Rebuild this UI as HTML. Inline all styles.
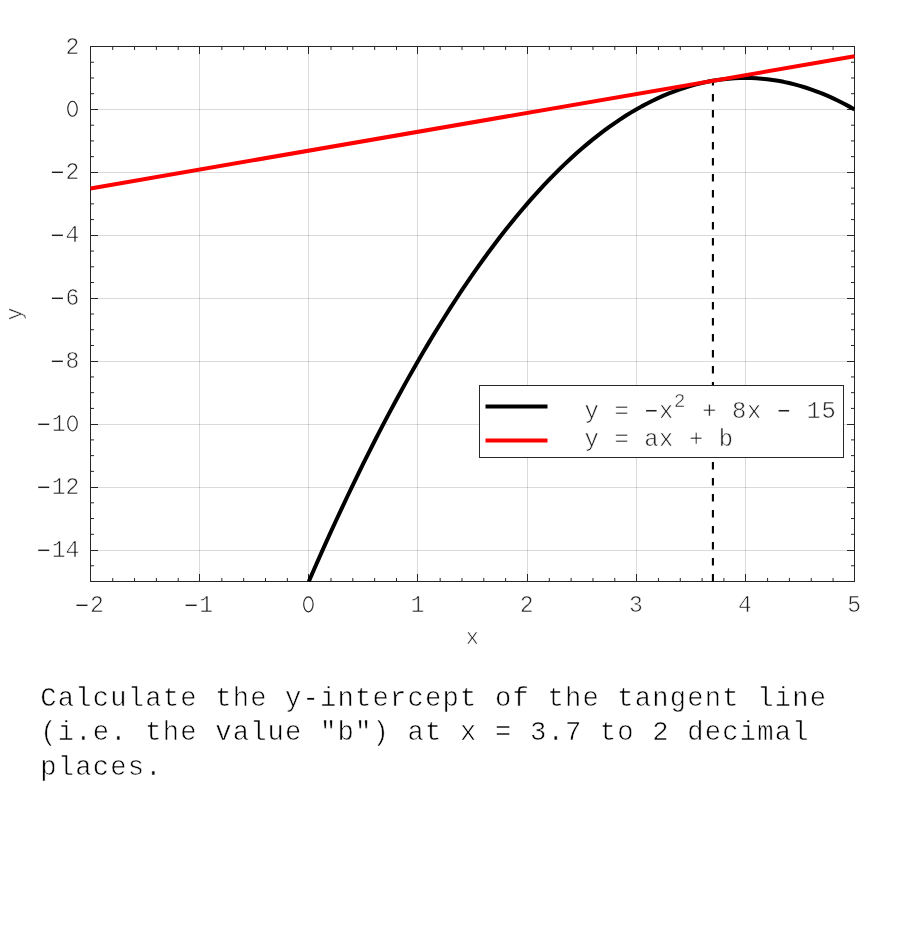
<!DOCTYPE html>
<html><head><meta charset="utf-8"><title>Tangent line</title>
<style>
html,body{margin:0;padding:0;background:#fff;}
body{width:900px;height:930px;overflow:hidden;}
svg{display:block;will-change:transform;}
text{font-family:"Liberation Mono",monospace;stroke:#fff;stroke-linejoin:round;text-anchor:middle;}
.tk text{fill:#222;stroke-width:0.6;}
.tk ellipse{fill:none;stroke:#222;stroke-width:1.15;}
.lg text{fill:#222;stroke-width:0.55;}
.q text{fill:#000;stroke-width:0.6;}
.tk text.m,.lg text.m{stroke-width:0.15;}
</style></head><body>
<svg width="900" height="930" viewBox="0 0 900 930">
<g stroke="#262626" stroke-opacity="0.17" stroke-width="1" fill="none">
<path d="M199.5 46.5V581.5 M308.5 46.5V581.5 M417.5 46.5V581.5 M527.5 46.5V581.5 M636.5 46.5V581.5 M745.5 46.5V581.5 M90.5 550.5H854.5 M90.5 487.5H854.5 M90.5 424.5H854.5 M90.5 361.5H854.5 M90.5 298.5H854.5 M90.5 235.5H854.5 M90.5 172.5H854.5 M90.5 109.5H854.5"/>
</g>
<g stroke="#262626" stroke-width="1" fill="none">
<rect x="90.5" y="46.5" width="764.0" height="535.0"/>
<path d="M90.50 581.5v-7.5 M90.50 46.5v7.5 M112.73 581.5v-3.5 M112.73 46.5v3.5 M134.56 581.5v-3.5 M134.56 46.5v3.5 M156.39 581.5v-3.5 M156.39 46.5v3.5 M178.21 581.5v-3.5 M178.21 46.5v3.5 M199.50 581.5v-7.5 M199.50 46.5v7.5 M221.87 581.5v-3.5 M221.87 46.5v3.5 M243.70 581.5v-3.5 M243.70 46.5v3.5 M265.53 581.5v-3.5 M265.53 46.5v3.5 M287.36 581.5v-3.5 M287.36 46.5v3.5 M308.50 581.5v-7.5 M308.50 46.5v7.5 M331.01 581.5v-3.5 M331.01 46.5v3.5 M352.84 581.5v-3.5 M352.84 46.5v3.5 M374.67 581.5v-3.5 M374.67 46.5v3.5 M396.50 581.5v-3.5 M396.50 46.5v3.5 M417.50 581.5v-7.5 M417.50 46.5v7.5 M440.16 581.5v-3.5 M440.16 46.5v3.5 M461.99 581.5v-3.5 M461.99 46.5v3.5 M483.81 581.5v-3.5 M483.81 46.5v3.5 M505.64 581.5v-3.5 M505.64 46.5v3.5 M527.50 581.5v-7.5 M527.50 46.5v7.5 M549.30 581.5v-3.5 M549.30 46.5v3.5 M571.13 581.5v-3.5 M571.13 46.5v3.5 M592.96 581.5v-3.5 M592.96 46.5v3.5 M614.79 581.5v-3.5 M614.79 46.5v3.5 M636.50 581.5v-7.5 M636.50 46.5v7.5 M658.44 581.5v-3.5 M658.44 46.5v3.5 M680.27 581.5v-3.5 M680.27 46.5v3.5 M702.10 581.5v-3.5 M702.10 46.5v3.5 M723.93 581.5v-3.5 M723.93 46.5v3.5 M745.50 581.5v-7.5 M745.50 46.5v7.5 M767.59 581.5v-3.5 M767.59 46.5v3.5 M789.41 581.5v-3.5 M789.41 46.5v3.5 M811.24 581.5v-3.5 M811.24 46.5v3.5 M833.07 581.5v-3.5 M833.07 46.5v3.5 M854.50 581.5v-7.5 M854.50 46.5v7.5 M90.5 581.50h3.5 M854.5 581.50h-3.5 M90.5 565.76h3.5 M854.5 565.76h-3.5 M90.5 550.50h7.5 M854.5 550.50h-7.5 M90.5 534.29h3.5 M854.5 534.29h-3.5 M90.5 518.56h3.5 M854.5 518.56h-3.5 M90.5 502.82h3.5 M854.5 502.82h-3.5 M90.5 487.50h7.5 M854.5 487.50h-7.5 M90.5 471.35h3.5 M854.5 471.35h-3.5 M90.5 455.62h3.5 M854.5 455.62h-3.5 M90.5 439.88h3.5 M854.5 439.88h-3.5 M90.5 424.50h7.5 M854.5 424.50h-7.5 M90.5 408.41h3.5 M854.5 408.41h-3.5 M90.5 392.68h3.5 M854.5 392.68h-3.5 M90.5 376.94h3.5 M854.5 376.94h-3.5 M90.5 361.50h7.5 M854.5 361.50h-7.5 M90.5 345.47h3.5 M854.5 345.47h-3.5 M90.5 329.74h3.5 M854.5 329.74h-3.5 M90.5 314.00h3.5 M854.5 314.00h-3.5 M90.5 298.50h7.5 M854.5 298.50h-7.5 M90.5 282.53h3.5 M854.5 282.53h-3.5 M90.5 266.79h3.5 M854.5 266.79h-3.5 M90.5 251.06h3.5 M854.5 251.06h-3.5 M90.5 235.50h7.5 M854.5 235.50h-7.5 M90.5 219.59h3.5 M854.5 219.59h-3.5 M90.5 203.85h3.5 M854.5 203.85h-3.5 M90.5 188.12h3.5 M854.5 188.12h-3.5 M90.5 172.50h7.5 M854.5 172.50h-7.5 M90.5 156.65h3.5 M854.5 156.65h-3.5 M90.5 140.91h3.5 M854.5 140.91h-3.5 M90.5 125.18h3.5 M854.5 125.18h-3.5 M90.5 109.50h7.5 M854.5 109.50h-7.5 M90.5 93.71h3.5 M854.5 93.71h-3.5 M90.5 77.97h3.5 M854.5 77.97h-3.5 M90.5 62.24h3.5 M854.5 62.24h-3.5 M90.5 46.50h7.5 M854.5 46.50h-7.5"/>
</g>
<defs><clipPath id="ax"><rect x="90.00" y="46.00" width="765.00" height="536.50"/></clipPath></defs>
<g clip-path="url(#ax)" fill="none" stroke-linejoin="round">
<polyline points="308.79,581.50 314.24,568.99 319.70,556.64 325.16,544.44 330.61,532.41 336.07,520.53 341.53,508.80 346.99,497.24 352.44,485.83 357.90,474.58 363.36,463.49 368.81,452.55 374.27,441.77 379.73,431.15 385.19,420.69 390.64,410.38 396.10,400.23 401.56,390.24 407.01,380.40 412.47,370.73 417.93,361.21 423.39,351.84 428.84,342.64 434.30,333.59 439.76,324.70 445.21,315.97 450.67,307.39 456.13,298.97 461.59,290.71 467.04,282.61 472.50,274.66 477.96,266.87 483.41,259.24 488.87,251.77 494.33,244.45 499.79,237.29 505.24,230.29 510.70,223.44 516.16,216.76 521.61,210.23 527.07,203.85 532.53,197.64 537.99,191.58 543.44,185.68 548.90,179.94 554.36,174.35 559.81,168.92 565.27,163.65 570.73,158.54 576.19,153.58 581.64,148.78 587.10,144.14 592.56,139.65 598.01,135.33 603.47,131.16 608.93,127.14 614.39,123.29 619.84,119.59 625.30,116.05 630.76,112.67 636.21,109.44 641.67,106.37 647.13,103.46 652.59,100.71 658.04,98.11 663.50,95.67 668.96,93.39 674.41,91.27 679.87,89.30 685.33,87.49 690.79,85.84 696.24,84.34 701.70,83.01 707.16,81.83 712.61,80.80 718.07,79.94 723.53,79.23 728.99,78.68 734.44,78.29 739.90,78.05 745.36,77.97 750.81,78.05 756.27,78.29 761.73,78.68 767.19,79.23 772.64,79.94 778.10,80.80 783.56,81.83 789.01,83.01 794.47,84.34 799.93,85.84 805.39,87.49 810.84,89.30 816.30,91.27 821.76,93.39 827.21,95.67 832.67,98.11 838.13,100.71 843.59,103.46 849.04,106.37 854.50,109.44" stroke="#000000" stroke-width="4"/>
<line x1="712.91" y1="581.50" x2="712.91" y2="80.80" stroke="#000000" stroke-width="2.1" stroke-dasharray="7.6 8.4"/>
<line x1="90.50" y1="188.43" x2="854.50" y2="56.26" stroke="#ff0000" stroke-width="4"/>
</g>
<g class="tk" font-size="23">
<text class="m" x="82.20" y="612.60">−</text><text x="97.00" y="612.00">2</text>
<text class="m" x="191.34" y="612.60">−</text><text x="206.14" y="612.00">1</text>
<ellipse cx="308.39" cy="604.35" rx="4.7" ry="7.5"/>
<text x="417.53" y="612.00">1</text>
<text x="526.67" y="612.00">2</text>
<text x="635.81" y="612.00">3</text>
<text x="744.96" y="612.00">4</text>
<text x="854.10" y="612.00">5</text>
<text class="m" x="43.90" y="557.63">−</text><text x="58.70" y="557.03">1</text><text x="72.50" y="557.03">4</text>
<text class="m" x="43.90" y="494.69">−</text><text x="58.70" y="494.09">1</text><text x="72.50" y="494.09">2</text>
<text class="m" x="43.90" y="431.75">−</text><text x="58.70" y="431.15">1</text><ellipse cx="72.50" cy="423.50" rx="4.7" ry="7.5"/>
<text class="m" x="57.70" y="368.81">−</text><text x="72.50" y="368.21">8</text>
<text class="m" x="57.70" y="305.86">−</text><text x="72.50" y="305.26">6</text>
<text class="m" x="57.70" y="242.92">−</text><text x="72.50" y="242.32">4</text>
<text class="m" x="57.70" y="179.98">−</text><text x="72.50" y="179.38">2</text>
<ellipse cx="72.50" cy="108.79" rx="4.7" ry="7.5"/>
<text x="72.50" y="53.50">2</text>
<text x="472.40" y="643.50" font-size="22">x</text>
<text transform="translate(21.00 314.00) rotate(-90)" font-size="21.5">y</text>
</g>
<rect x="479.5" y="385.5" width="364" height="72" fill="#ffffff" stroke="#262626" stroke-width="1"/>
<line x1="485.5" y1="406.5" x2="547.5" y2="406.5" stroke="#000000" stroke-width="4"/>
<line x1="485.5" y1="440.4" x2="547.5" y2="440.4" stroke="#ff0000" stroke-width="4"/>
<g class="lg" font-size="23.8" xml:space="preserve">
<text x="591.75 606.65 621.55" y="417.70">y =</text><text class="m" x="651.35" y="418.10" font-size="22">−</text><text x="666.25" y="417.70">x</text><text x="679.60" y="406.90" font-size="19.5">2</text><text x="709.35 724.25 739.15 754.05" y="417.70">+ 8x</text><text class="m" x="783.85" y="418.10" font-size="22">−</text><text x="813.65 828.55" y="417.70">15</text>
<text x="591.75 606.65 621.55 636.45 651.35 666.25 681.15 696.05 710.95 725.85" y="445.70">y = ax + b</text>
</g>
<g class="q" font-size="27.2" xml:space="preserve">
<text x="48.44 65.93 83.42 100.90 118.39 135.88 153.37 170.85 188.34 205.83 223.31 240.80 258.29 275.77 293.26 310.75 328.24 345.72 363.21 380.70 398.18 415.67 433.16 450.64 468.13 485.62 503.11 520.59 538.08 555.57 573.05 590.54 608.03 625.51 643.00 660.49 677.98 695.46 712.95 730.44 747.92 765.41 782.90 800.38 817.87" y="706.10">Calculate the y-intercept of the tangent line</text>
<text x="48.44 65.93 83.42 100.90 118.39 135.88 153.37 170.85 188.34 205.83 223.31 240.80 258.29 275.77 293.26 310.75 328.24 345.72 363.21 380.70 398.18 415.67 433.16 450.64 468.13 485.62 503.11 520.59 538.08 555.57 573.05 590.54 608.03 625.51 643.00 660.49 677.98 695.46 712.95 730.44 747.92 765.41 782.90 800.38" y="740.30">(i.e. the value &quot;b&quot;) at x = 3.7 to 2 decimal</text>
<text x="48.44 65.93 83.42 100.90 118.39 135.88 153.37" y="774.50">places.</text>
</g>
</svg>
</body></html>
